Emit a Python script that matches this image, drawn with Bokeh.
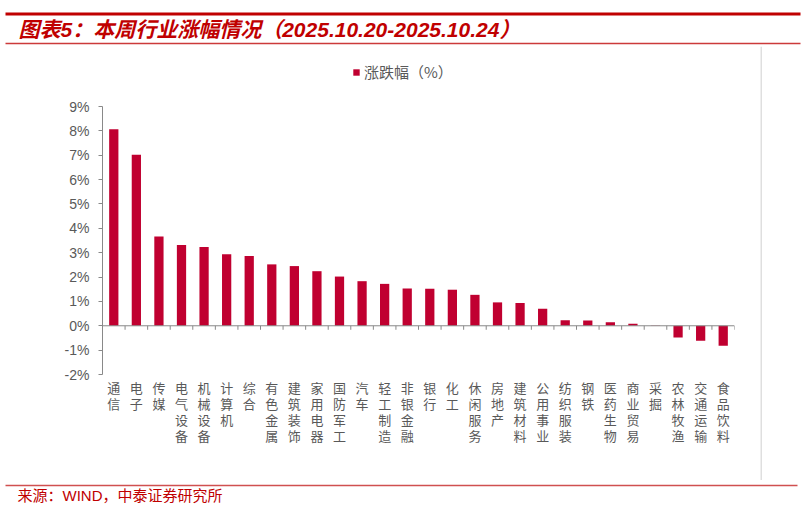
from bokeh.plotting import figure
from bokeh.models import (Range1d, FactorRange, Span, Legend, LegendItem,
                          ColumnDataSource, FixedTicker)
from bokeh.layouts import column, row
from bokeh.transform import dodge
from bokeh.core.properties import value
from bokeh.embed import file_html
from bokeh.resources import INLINE

# ---------------- data ----------------
industries = ["通信", "电子", "传媒", "电气设备", "机械设备", "计算机", "综合",
              "有色金属", "建筑装饰", "家用电器", "国防军工", "汽车", "轻工制造",
              "非银金融", "银行", "化工", "休闲服务", "房地产", "建筑材料",
              "公用事业", "纺织服装", "钢铁", "医药生物", "商业贸易", "采掘",
              "农林牧渔", "交通运输", "食品饮料"]
changes = [8.07, 7.02, 3.66, 3.32, 3.23, 2.94, 2.86, 2.52, 2.45, 2.24, 2.02,
           1.83, 1.72, 1.53, 1.52, 1.48, 1.27, 0.96, 0.93, 0.70, 0.23, 0.22,
           0.14, 0.08, 0.01, -0.48, -0.61, -0.82]
y_ticks = [-2, -1, 0, 1, 2, 3, 4, 5, 6, 7, 8, 9]
y_tick_labels = ["-2%", "-1%", "0%", "1%", "2%", "3%", "4%", "5%", "6%",
                 "7%", "8%", "9%"]
series_name = "涨跌幅（%）"
title_text = "图表5：本周行业涨幅情况（2025.10.20-2025.10.24）"
source_text = "来源：WIND，中泰证券研究所"

# ---------------- styles ----------------
RED = "#C00000"
BAR = "#C00030"
AXIS = "#898989"
LABEL = "#595959"
LATIN_CJK = value("Liberation Sans, Noto Sans CJK SC")

W = 803
HEAD_H, BODY_H, FOOT_H = 46, 434, 28
# layout of the value axis inside the chart body (pixels from body top)
Y_MIN, Y_MAX = y_ticks[0], y_ticks[-1]
AX_TOP_PX, AX_BOT_PX = 60, 328
PX_PER_UNIT = (AX_BOT_PX - AX_TOP_PX) / (Y_MAX - Y_MIN)
y_start = Y_MIN - (BODY_H - AX_BOT_PX) / PX_PER_UNIT
y_end = Y_MAX + AX_TOP_PX / PX_PER_UNIT


def blank(width, height, xr, yr):
    f = figure(width=width, height=height, x_range=xr, y_range=yr,
               output_backend="svg", toolbar_location=None,
               x_axis_location=None, y_axis_location=None, min_border=0)
    f.outline_line_color = None
    f.xgrid.visible = False
    f.ygrid.visible = False
    return f


# ---------------- header ----------------
head = blank(W, HEAD_H, Range1d(0, W), Range1d(HEAD_H, 0))
head.segment(x0=[5], y0=[13.5], x1=[800], y1=[13.5], line_color=RED, line_width=3)
head.segment(x0=[5], y0=[43], x1=[800], y1=[43], line_color="#CC3A3A", line_width=1.5)
head.text(x=[18], y=[29], text=[title_text], text_font=LATIN_CJK,
          text_font_style="bold italic", text_font_size="21px",
          text_color=RED, text_baseline="middle", text_align="left")

# ---------------- chart ----------------
src = ColumnDataSource(dict(cat=industries, val=changes,
                            stacked=["\n".join(c) for c in industries]))
p = figure(x_range=FactorRange(*industries), y_range=Range1d(y_start, y_end),
           width=760, height=BODY_H, output_backend="svg", toolbar_location=None,
           x_axis_location=None,
           min_border_left=102, min_border_right=26, min_border_top=0,
           min_border_bottom=0)
p.outline_line_color = None
p.xgrid.visible = False
p.ygrid.visible = False

bars = p.vbar(x="cat", top="val", width=0.41, source=src,
              fill_color=BAR, line_color=None)

# zero line and category-boundary ticks
p.add_layout(Span(location=0, dimension="width", line_color=AXIS, line_width=1))
tick_len = 4 / PX_PER_UNIT
p.segment(x0=dodge("cat", -0.5, range=p.x_range), y0=0,
          x1=dodge("cat", -0.5, range=p.x_range), y1=-tick_len,
          source=src, line_color=AXIS, line_width=1)
last_src = ColumnDataSource(dict(cat=[industries[-1]]))
p.segment(x0=dodge("cat", 0.5, range=p.x_range), y0=0,
          x1=dodge("cat", 0.5, range=p.x_range), y1=-tick_len,
          source=last_src, line_color=AXIS, line_width=1)

# category labels, characters stacked vertically
p.text(x="cat", y=Y_MIN - 3 / PX_PER_UNIT, text="stacked", source=src,
       text_font=value("Noto Sans CJK SC"), text_font_size="13px",
       text_color=LABEL, text_align="center", text_baseline="top",
       text_line_height=0.85)

# y axis
yax = p.yaxis[0]
yax.ticker = FixedTicker(ticks=y_ticks)
yax.bounds = (Y_MIN, Y_MAX)
yax.major_label_overrides = {t: l for t, l in zip(y_ticks, y_tick_labels)}
yax.axis_line_color = AXIS
yax.major_tick_line_color = AXIS
yax.major_tick_out = 4
yax.major_tick_in = 0
yax.minor_tick_line_color = None
yax.major_label_standoff = 9
yax.major_label_text_font = "Liberation Sans"
yax.major_label_text_font_size = "14px"
yax.major_label_text_color = LABEL

legend = Legend(items=[LegendItem(label=series_name, renderers=[bars])],
                location=(250, 398), orientation="horizontal",
                glyph_width=8, glyph_height=8, label_height=8,
                label_standoff=4, padding=0, margin=0, spacing=0,
                border_line_color=None, background_fill_alpha=0,
                label_text_font="Noto Sans CJK SC", label_text_font_size="15px",
                label_text_color=LABEL)
p.add_layout(legend, "center")

side = blank(43, BODY_H, Range1d(0, 43), Range1d(0, BODY_H))
side.segment(x0=[0.5], y0=[0], x1=[0.5], y1=[BODY_H], line_color="#BFBFBF", line_width=1)

# ---------------- footer ----------------
foot = blank(W, FOOT_H, Range1d(0, W), Range1d(FOOT_H, 0))
foot.segment(x0=[5], y0=[5], x1=[797], y1=[5], line_color="#D05050", line_width=1.5)
foot.text(x=[17], y=[15], text=[source_text], text_font=LATIN_CJK,
          text_font_size="15px", text_color=RED, text_baseline="middle",
          text_align="left")

layout = column(head, row(p, side), foot)
open("out.html", "w").write(file_html(layout, INLINE))
